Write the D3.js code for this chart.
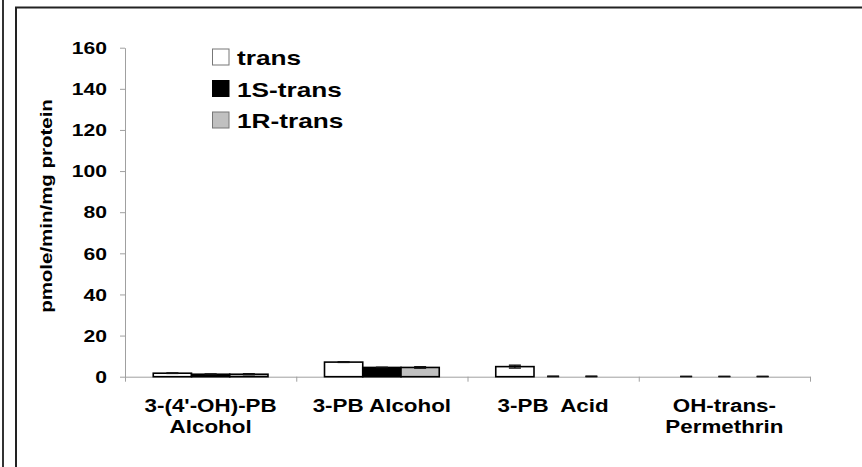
<!DOCTYPE html>
<html>
<head>
<meta charset="utf-8">
<script src="https://cdn.jsdelivr.net/npm/d3@7/dist/d3.min.js"></script>
<style>
  html, body { margin: 0; padding: 0; background: #fff; }
  svg { display: block; }
  text { font-family: "Liberation Sans", Arial, sans-serif; font-weight: bold; fill: #000; }
</style>
</head>
<body>
<svg id="chart" width="862" height="467"></svg>
<script>
// ---- data ----
const categories = [["3-(4'-OH)-PB", "Alcohol"], ["3-PB Alcohol"], ["3-PB  Acid"], ["OH-trans-", "Permethrin"]];
const seriesNames = ["trans", "1S-trans", "1R-trans"];
const transValues = [1.7, 7.1, 4.9, 0];
const s1Values = [1.2, 4.5, 0, 0];
const r1Values = [1.2, 4.5, 0, 0];
const transErrors = [0.1, 0.15, 0.7, 0.2];
const s1Errors = [0.1, 0.05, 0.3, 0.2];
const r1Errors = [0.25, 0.35, 0.3, 0.2];
const yTicks = [0, 20, 40, 60, 80, 100, 120, 140, 160];
const yTitle = "pmole/min/mg protein";

const seriesValues = [transValues, s1Values, r1Values];
const seriesErrors = [transErrors, s1Errors, r1Errors];
const colors = ["#ffffff", "#000000", "#c0c0c0"];
const SX = 1.28;

const svg = d3.select("#chart");

// frames
svg.append("line").attr("x1", 3).attr("x2", 3).attr("y1", 0).attr("y2", 467)
  .attr("stroke", "#333").attr("stroke-width", 2);
svg.append("rect").attr("x", 16).attr("y", 7.5).attr("width", 900).attr("height", 500)
  .attr("fill", "none").attr("stroke", "#222").attr("stroke-width", 2);

const plotLeft = 125, plotRight = 810, plotTop = 47.7, plotBottom = 376.7;
const x0 = d3.scaleBand().domain(d3.range(categories.length)).range([plotLeft, plotRight]).padding(0);
const bw = x0.bandwidth();
const x1 = d3.scaleBand().domain(d3.range(seriesNames.length)).range([bw * 0.165, bw * 0.835]).padding(0);
const y = d3.scaleLinear().domain([0, 160]).range([plotBottom, plotTop]);

// y axis
const gy = svg.append("g").attr("transform", `translate(${plotLeft},0)`)
  .call(d3.axisLeft(y).tickValues(yTicks).tickSize(5).tickSizeOuter(0));
gy.select(".domain").attr("stroke", "#a0a0a0");
gy.selectAll(".tick line").attr("stroke", "#a0a0a0");
gy.selectAll(".tick text")
  .attr("x", null).attr("dy", "0.35em")
  .attr("transform", `translate(-18,0) scale(${SX},1)`)
  .attr("font-size", 16.5).attr("font-family", null).attr("font-weight", "bold")
  .attr("text-anchor", "end").attr("fill", "#000");

// x axis: boundary ticks
const xb = d3.scaleLinear().domain([0, categories.length]).range([plotLeft, plotRight]);
const gx = svg.append("g").attr("transform", `translate(0,${plotBottom})`)
  .call(d3.axisBottom(xb).ticks(categories.length).tickSize(5).tickSizeOuter(0).tickFormat(""));
gx.select(".domain").attr("stroke", "#a0a0a0");
gx.selectAll(".tick line").attr("stroke", "#a0a0a0");

// category labels via band axis
const gl = svg.append("g").attr("transform", `translate(0,${plotBottom})`)
  .call(d3.axisBottom(x0).tickSize(0).tickFormat(""));
gl.select(".domain").remove();
gl.selectAll(".tick").each(function(d) {
  d3.select(this).selectAll("text").remove();
  const t = d3.select(this).append("text")
    .attr("transform", `translate(0,${412 - plotBottom}) scale(${SX},1)`)
    .attr("text-anchor", "middle").attr("font-size", 17.5)
    .style("white-space", "pre");
  categories[d].forEach((line, i) => {
    t.append("tspan").attr("x", 0).attr("y", i * 21).text(line);
  });
});

// bars
const groups = svg.append("g").selectAll("g").data(categories).join("g")
  .attr("transform", (d, i) => `translate(${x0(i)},0)`);
groups.each(function(c, ci) {
  const g = d3.select(this);
  seriesNames.forEach((s, si) => {
    const v = seriesValues[si][ci];
    const e = seriesErrors[si][ci];
    const bx = x1(si);
    if (v > 0) {
      g.append("rect")
        .attr("x", bx).attr("y", y(v))
        .attr("width", x1.bandwidth()).attr("height", y(0) - y(v))
        .attr("fill", colors[si]).attr("stroke", "#000").attr("stroke-width", 1.6);
    }
    const cx = bx + x1.bandwidth() / 2;
    const lo = Math.max(0, v - e), hi = v + e;
    g.append("line").attr("x1", cx).attr("x2", cx).attr("y1", y(lo)).attr("y2", y(hi))
      .attr("stroke", "#000").attr("stroke-width", 1.2);
    [lo, hi].forEach(val => {
      g.append("line").attr("x1", cx - 6).attr("x2", cx + 6).attr("y1", y(val)).attr("y2", y(val))
        .attr("stroke", "#111").attr("stroke-width", 1.4);
    });
  });
});

// y title
svg.append("text")
  .attr("transform", `translate(51.5,206) rotate(-90) scale(${SX},1)`)
  .attr("text-anchor", "middle").attr("font-size", 16)
  .text(yTitle);

// legend
const legend = svg.append("g");
const legY = [49, 80.5, 112];
seriesNames.forEach((s, i) => {
  legend.append("rect").attr("x", 212.5).attr("y", legY[i]).attr("width", 16.5).attr("height", 16)
    .attr("fill", colors[i]).attr("stroke", i === 1 ? "#000" : "#777").attr("stroke-width", 1);
  legend.append("text")
    .attr("transform", `translate(237,${legY[i] + 16}) scale(${SX},1)`)
    .attr("font-size", 20.5).text(s);
});
</script>
</body>
</html>
